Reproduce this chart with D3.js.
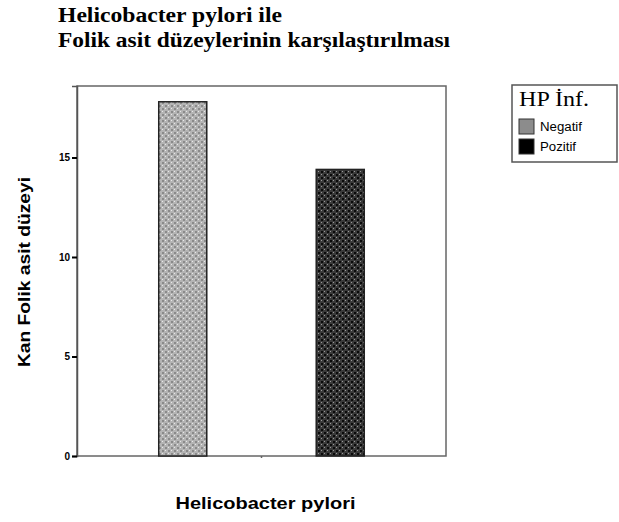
<!DOCTYPE html>
<html>
<head>
<meta charset="utf-8">
<script src="https://cdn.jsdelivr.net/npm/d3@7"></script>
<style>
  body { margin: 0; background: #fff; }
  svg { display: block; }
</style>
</head>
<body>
<div id="chart"></div>
<script>
// Veriler
let categories = ["Negatif", "Pozitif"];
let values = [17.8, 14.4];
let yTicks = [0, 5, 10, 15];
let titleLines = ["Helicobacter pylori ile", "Folik asit düzeylerinin karşılaştırılması"];
let legendTitle = "HP İnf.";

let width = 619, height = 522;
let plot = { left: 77, right: 446, top: 86, bottom: 456 };

let svg = d3.select("#chart")
  .append("svg")
  .attr("width", width)
  .attr("height", height);

/* Desenler */
let defs = svg.append("defs");

function makePattern(id, base, dark, light) {
  let p = defs.append("pattern")
    .attr("id", id)
    .attr("width", 6)
    .attr("height", 6)
    .attr("patternUnits", "userSpaceOnUse");
  p.append("rect").attr("width", 6).attr("height", 6).attr("fill", base);
  p.append("rect").attr("x", 0).attr("y", 0).attr("width", 2).attr("height", 2).attr("fill", dark);
  p.append("rect").attr("x", 3).attr("y", 3).attr("width", 2).attr("height", 2).attr("fill", dark);
  p.append("rect").attr("x", 3).attr("y", 0).attr("width", 1).attr("height", 1).attr("fill", light);
  p.append("rect").attr("x", 0).attr("y", 3).attr("width", 1).attr("height", 1).attr("fill", light);
}
makePattern("pat0", "#b4b4b4", "#8a8a8a", "#e8e8e8");
makePattern("pat1", "#3a3a3a", "#0a0a0a", "#9a9a9a");

let fills = ["url(#pat0)", "url(#pat1)"];
let swatch = ["#8c8c8c", "#000000"];

/* Ölçekler */
let x = d3.scaleBand()
  .domain(categories)
  .range([plot.left, plot.right])
  .paddingInner(0.695)
  .paddingOuter(0.519);

let y = d3.scaleLinear()
  .domain([0, (plot.bottom - plot.top) / 19.9])
  .range([plot.bottom, plot.top]);

/* Çerçeve */
svg.append("rect")
  .attr("x", plot.left)
  .attr("y", plot.top)
  .attr("width", plot.right - plot.left)
  .attr("height", plot.bottom - plot.top)
  .attr("fill", "none")
  .attr("stroke", "#666")
  .attr("stroke-width", 1.5);

/* Çubuklar */
svg.selectAll("rect.bar")
  .data(values)
  .enter().append("rect")
  .attr("class", "bar")
  .attr("x", function(d, i) { return x(categories[i]); })
  .attr("y", function(d) { return y(d); })
  .attr("width", x.bandwidth())
  .attr("height", function(d) { return y(0) - y(d); })
  .attr("fill", function(d, i) { return fills[i]; })
  .attr("stroke", "#222")
  .attr("stroke-width", 1.5);

/* Y ekseni */
let yAxis = d3.axisLeft(y)
  .tickValues(yTicks)
  .tickSize(5)
  .tickPadding(2);

let gy = svg.append("g")
  .attr("transform", "translate(" + plot.left + ",0)")
  .call(yAxis);
gy.select(".domain").attr("stroke", "#555").attr("stroke-width", 1.5);
gy.selectAll(".tick line").attr("stroke", "#000").attr("stroke-width", 2);
gy.selectAll(".tick text")
  .attr("font-family", "Liberation Sans, Arial, sans-serif")
  .attr("font-size", 10)
  .attr("font-weight", "bold")
  .attr("fill", "#000");

// orta çentik
svg.append("line")
  .attr("x1", (plot.left + plot.right) / 2)
  .attr("x2", (plot.left + plot.right) / 2)
  .attr("y1", plot.bottom)
  .attr("y2", plot.bottom + 2)
  .attr("stroke", "#666")
  .attr("stroke-width", 1.5);

/* Başlık */
let titleWidths = [224, 392];
svg.selectAll("text.title")
  .data(titleLines)
  .enter().append("text")
  .attr("class", "title")
  .attr("x", 58)
  .attr("y", function(d, i) { return 22 + i * 25; })
  .attr("font-family", "Liberation Serif, Times New Roman, serif")
  .attr("font-size", 20)
  .attr("font-weight", "bold")
  .attr("textLength", function(d, i) { return titleWidths[i]; })
  .attr("lengthAdjust", "spacingAndGlyphs")
  .text(function(d) { return d; });

/* Eksen başlıkları */
svg.append("text")
  .attr("x", (plot.left + plot.right) / 2 + 4)
  .attr("y", 509)
  .attr("text-anchor", "middle")
  .attr("font-family", "Liberation Sans, Arial, sans-serif")
  .attr("font-size", 17)
  .attr("font-weight", "bold")
  .attr("textLength", 180)
  .attr("lengthAdjust", "spacingAndGlyphs")
  .text("Helicobacter pylori");

svg.append("text")
  .attr("transform", "translate(30,272) rotate(-90)")
  .attr("text-anchor", "middle")
  .attr("font-family", "Liberation Sans, Arial, sans-serif")
  .attr("font-size", 17)
  .attr("font-weight", "bold")
  .attr("textLength", 190)
  .attr("lengthAdjust", "spacingAndGlyphs")
  .text("Kan Folik asit düzeyi");

/* Lejant */
let legend = svg.append("g");
legend.append("rect")
  .attr("x", 512)
  .attr("y", 85)
  .attr("width", 105)
  .attr("height", 77)
  .attr("fill", "#fff")
  .attr("stroke", "#555")
  .attr("stroke-width", 1.5);

legend.append("text")
  .attr("x", 519)
  .attr("y", 106)
  .attr("font-family", "Liberation Serif, Times New Roman, serif")
  .attr("font-size", 21)
  .attr("textLength", 70)
  .attr("lengthAdjust", "spacingAndGlyphs")
  .text(legendTitle);

let items = legend.selectAll("g.item")
  .data(categories)
  .enter().append("g")
  .attr("class", "item")
  .attr("transform", function(d, i) { return "translate(519," + (119 + i * 20) + ")"; });

items.append("rect")
  .attr("width", 15)
  .attr("height", 15)
  .attr("fill", function(d, i) { return swatch[i]; })
  .attr("stroke", "#333")
  .attr("stroke-width", 1);

items.append("text")
  .attr("x", 21)
  .attr("y", 12)
  .attr("font-family", "Liberation Sans, Arial, sans-serif")
  .attr("font-size", 12)
  .attr("textLength", function(d) { return d === "Negatif" ? 42 : 36; })
  .attr("lengthAdjust", "spacingAndGlyphs")
  .text(function(d) { return d; });
</script>
</body>
</html>
